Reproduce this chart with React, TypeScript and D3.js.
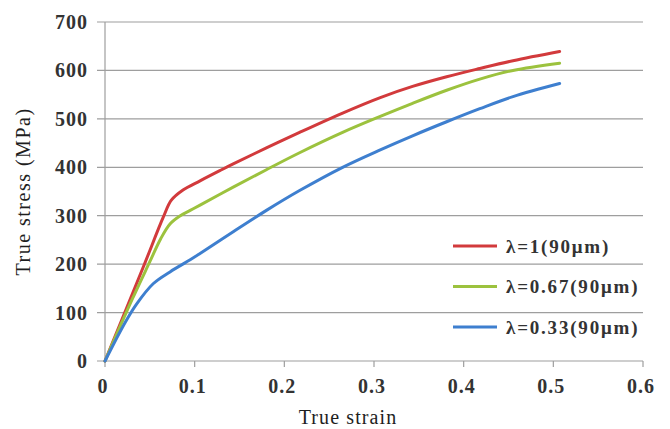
import React, { useEffect } from "react";
import * as d3 from "d3";

const W = 670;
const H = 429;

const xTicks = [0, 0.1, 0.2, 0.3, 0.4, 0.5, 0.6];
const yTicks = [0, 100, 200, 300, 400, 500, 600, 700];

const redStrain = [0, 0.0427, 0.065, 0.074, 0.087, 0.106, 0.128, 0.143, 0.18, 0.217, 0.265, 0.307, 0.343, 0.381, 0.418, 0.455, 0.507];
const redStress = [0, 194, 297, 332, 353, 372, 393, 407, 440, 472, 512, 544, 567, 587, 604, 620, 639];

const greenStrain = [0, 0.03, 0.05, 0.062, 0.0725, 0.084, 0.095, 0.106, 0.143, 0.18, 0.217, 0.265, 0.307, 0.343, 0.381, 0.418, 0.455, 0.507];
const greenStress = [0, 126, 205, 252, 283, 300, 311, 322, 359, 395, 430, 472, 505, 532, 559, 582, 600, 615];

const blueStrain = [0, 0.022, 0.035, 0.054, 0.0725, 0.095, 0.106, 0.143, 0.18, 0.217, 0.265, 0.307, 0.343, 0.381, 0.418, 0.455, 0.507];
const blueStress = [0, 78, 117, 160, 184, 209, 222, 267, 311, 352, 400, 436, 465, 494, 521, 546, 573];

const seriesNames = ["λ=1(90μm)", "λ=0.67(90μm)", "λ=0.33(90μm)"];
const seriesColors = ["#d23a3c", "#9cc23e", "#3e7fcf"];

const FONT = "Liberation Serif, Times New Roman, DejaVu Serif, serif";

export default function App() {
  useEffect(() => {
    document.body.style.margin = "0";
  }, []);

  const x = d3.scaleLinear().domain([0, 0.6]).range([105, 643]);
  const y = d3.scaleLinear().domain([0, 700]).range([361, 22]);

  const series = [
    redStrain.map((s, i) => [s, redStress[i]] as [number, number]),
    greenStrain.map((s, i) => [s, greenStress[i]] as [number, number]),
    blueStrain.map((s, i) => [s, blueStress[i]] as [number, number]),
  ];

  const line = d3
    .line<[number, number]>()
    .x((d) => x(d[0]))
    .y((d) => y(d[1]))
    .curve(d3.curveCatmullRom.alpha(0.5));

  const txt = { fontFamily: FONT } as React.CSSProperties;

  return (
    <svg width={W} height={H} style={{ display: "block", background: "#fff" }}>
      {yTicks.map((t) => (
        <line key={"g" + t} x1={97} x2={643} y1={y(t)} y2={y(t)} stroke="#9e9e9e" strokeWidth={1.2} />
      ))}
      <line x1={x(0)} x2={x(0)} y1={y(0)} y2={y(700)} stroke="#9e9e9e" strokeWidth={1.2} />
      {xTicks.map((t) => (
        <line key={"xt" + t} x1={x(t)} x2={x(t)} y1={y(0)} y2={y(0) + 6} stroke="#9e9e9e" strokeWidth={1.2} />
      ))}
      {yTicks.map((t) => (
        <text key={"yl" + t} x={88} y={y(t)} dy="0.35em" textAnchor="end" style={{ ...txt, letterSpacing: "1px" }} fontSize={20} fontWeight="bold" fill="#333">
          {t}
        </text>
      ))}
      {xTicks.map((t) => (
        <text key={"xl" + t} x={x(t) - 2} y={393} textAnchor="middle" style={{ ...txt, letterSpacing: "1px" }} fontSize={20} fontWeight="bold" fill="#333">
          {String(t)}
        </text>
      ))}
      <text x={348} y={424} textAnchor="middle" style={{ ...txt, letterSpacing: "1.1px" }} fontSize={20} fill="#1e1e1e">
        True strain
      </text>
      <text transform={`translate(30,${y(350)}) rotate(-90)`} textAnchor="middle" style={{ ...txt, letterSpacing: "1.5px" }} fontSize={20} fill="#1e1e1e">
        True stress (MPa)
      </text>
      {series.map((s, i) => (
        <path key={"s" + i} d={line(s) || ""} fill="none" stroke={seriesColors[i]} strokeWidth={3} strokeLinejoin="round" strokeLinecap="round" />
      ))}
      {seriesNames.map((n, i) => (
        <g key={"lg" + i} transform={`translate(0,${246 + i * 40.5})`}>
          <line x1={453} x2={497} y1={0} y2={0} stroke={seriesColors[i]} strokeWidth={3} />
          <text x={506} y={0} dy="0.35em" style={{ ...txt, letterSpacing: "1.8px" }} fontSize={19} fontWeight="bold" fill="#333">
            {n}
          </text>
        </g>
      ))}
    </svg>
  );
}
